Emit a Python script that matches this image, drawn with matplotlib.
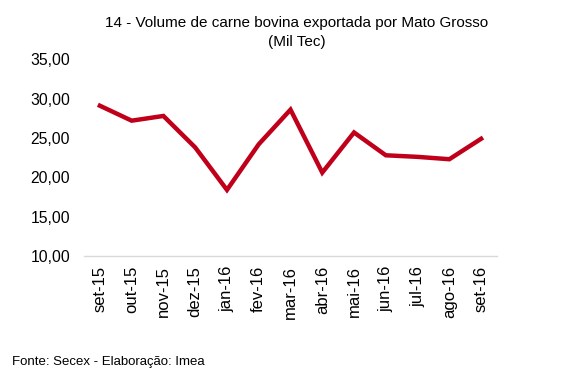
import matplotlib
matplotlib.use("Agg")
import matplotlib.pyplot as plt

categories = ["set-15", "out-15", "nov-15", "dez-15", "jan-16", "fev-16", "mar-16",
              "abr-16", "mai-16", "jun-16", "jul-16", "ago-16", "set-16"]
values = [29.1, 27.2, 27.8, 23.8, 18.4, 24.2, 28.6, 20.6, 25.7, 22.8, 22.6, 22.3, 24.9]
yticks = [10, 15, 20, 25, 30, 35]
ytick_labels = ["10,00", "15,00", "20,00", "25,00", "30,00", "35,00"]

plt.rcParams['font.family'] = ['Liberation Sans', 'DejaVu Sans']

fig = plt.figure(figsize=(5.72, 3.81), dpi=100)
ax = fig.add_axes([84/572, 1-256/381, (497-84)/572, (256-59.3)/381])

x = list(range(len(categories)))
ax.plot(x, values, color="#C0001A", linewidth=3.2, solid_joinstyle="miter")

ax.set_xlim(-0.5, len(categories) - 0.5)
ax.set_ylim(10, 35)
ax.set_yticks(yticks)
ax.set_yticklabels(ytick_labels, fontsize=11.3)
ax.set_xticks(x)
ax.set_xticklabels(categories, rotation=90, fontsize=12)
ax.tick_params(axis="y", length=0, pad=10)
ax.tick_params(axis="x", length=0, pad=7)

for s in ["top", "right", "left"]:
    ax.spines[s].set_visible(False)
ax.spines["bottom"].set_color("#D9D9D9")
ax.spines["bottom"].set_linewidth(1.0)

fig.text(297/572, 1-23/381, "14 - Volume de carne bovina exportada por Mato Grosso",
         ha="center", va="center", fontsize=11)
fig.text(297/572, 1-42/381, "(Mil Tec)", ha="center", va="center", fontsize=11)
fig.text(12/572, 1-361.5/381, "Fonte: Secex - Elaboração: Imea", ha="left", va="center",
         fontsize=9.5)

fig.savefig("out.png", dpi=100)
